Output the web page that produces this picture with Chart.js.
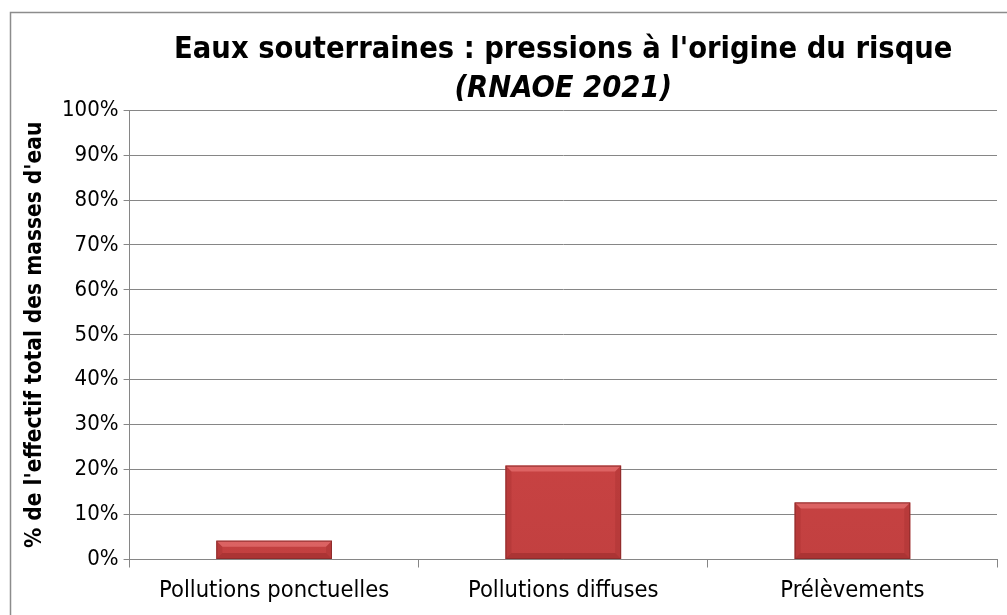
<!DOCTYPE html>
<html>
<head>
<meta charset="utf-8">
<script src="https://cdn.jsdelivr.net/npm/chart.js@4/dist/chart.umd.min.js"></script>
<style>
  html, body { margin: 0; padding: 0; background: #fff; }
  #wrap { width: 1007px; height: 615px; }
</style>
</head>
<body>
<div id="wrap"><canvas id="myChart"></canvas></div>
<script>
const categories = ["Pollutions ponctuelles", "Pollutions diffuses", "Prélèvements"];
const values = [4.2, 20.9, 12.7];
const yTicks = [0, 10, 20, 30, 40, 50, 60, 70, 80, 90, 100];

const fontFam = "'Liberation Sans Narrow', 'DejaVu Sans Condensed', 'Open Sans', sans-serif";

// bordure grise autour du graphique
const frame = {
    id: "frame",
    beforeDraw(chart) {
        const c = chart.ctx;
        c.save();
        c.fillStyle = "#fff";
        c.fillRect(0, 0, chart.width, chart.height);
        c.strokeStyle = "#8c8c8c";
        c.lineWidth = 1.5;
        c.strokeRect(10.5, 12.5, chart.width - 8, chart.height);
        c.restore();
    }
};

// petit effet de biseau sur les barres
const bevel = {
    id: "bevel",
    afterDatasetsDraw(chart) {
        const c = chart.ctx;
        const meta = chart.getDatasetMeta(0);
        c.save();
        meta.data.forEach(function (bar) {
            const w = bar.width;
            const l = bar.x - w / 2, r = bar.x + w / 2;
            const t = bar.y, b = bar.base;
            const d = Math.min(6, (b - t) / 3);
            // haut
            c.fillStyle = "rgba(255,150,150,0.4)";
            c.beginPath();
            c.moveTo(l, t); c.lineTo(r, t); c.lineTo(r - d, t + d); c.lineTo(l + d, t + d);
            c.closePath(); c.fill();
            // bas
            c.fillStyle = "rgba(90,10,10,0.22)";
            c.beginPath();
            c.moveTo(l, b); c.lineTo(r, b); c.lineTo(r - d, b - d); c.lineTo(l + d, b - d);
            c.closePath(); c.fill();
            // côtés
            c.fillStyle = "rgba(110,20,20,0.14)";
            c.beginPath();
            c.moveTo(l, t); c.lineTo(l + d, t + d); c.lineTo(l + d, b - d); c.lineTo(l, b);
            c.closePath(); c.fill();
            c.beginPath();
            c.moveTo(r, t); c.lineTo(r - d, t + d); c.lineTo(r - d, b - d); c.lineTo(r, b);
            c.closePath(); c.fill();
            c.strokeStyle = "#8e2c2c";
            c.lineWidth = 1;
            c.strokeRect(l + 0.5, t + 0.5, w - 1, b - t - 1);
        });
        c.restore();
    }
};

function barFill(context) {
    const chart = context.chart;
    const area = chart.chartArea;
    if (!area) return "#cc4444";
    const el = context.element;
    const top = el && el.y ? el.y : area.top;
    const bottom = el && el.base ? el.base : area.bottom;
    const g = chart.ctx.createLinearGradient(0, top, 0, bottom);
    g.addColorStop(0, "#da4a4a");
    g.addColorStop(1, "#c24040");
    return g;
}

new Chart(document.getElementById("myChart"), {
    type: "bar",
    data: {
        labels: categories,
        datasets: [{
            data: values,
            backgroundColor: barFill,
            borderWidth: 0,
            categoryPercentage: 0.8,
            barPercentage: 0.5
        }]
    },
    options: {
        responsive: true,
        maintainAspectRatio: false,
        animation: false,
        layout: { padding: { top: 24, right: 10, left: 18, bottom: 0 } },
        plugins: {
            legend: { display: false },
            tooltip: { enabled: false },
            title: {
                display: true,
                fullSize: false,
                text: "Eaux souterraines : pressions à l'origine du risque",
                color: "#000",
                font: { family: fontFam, size: 30.5, weight: "bold" },
                padding: { top: 8, bottom: 0 }
            },
            subtitle: {
                display: true,
                fullSize: false,
                text: "(RNAOE 2021)",
                color: "#000",
                font: { family: fontFam, size: 30.5, weight: "bold", style: "italic" },
                padding: { top: 2, bottom: 3 }
            }
        },
        scales: {
            x: {
                grid: {
                    offset: true,
                    drawOnChartArea: false,
                    color: "#868686",
                    tickLength: 8
                },
                border: { color: "#868686" },
                ticks: {
                    color: "#000",
                    font: { family: fontFam, size: 23.5, lineHeight: 1.0 },
                    padding: 12
                }
            },
            y: {
                min: 0,
                max: 100,
                afterBuildTicks(axis) {
                    axis.ticks = yTicks.map(v => ({ value: v }));
                },
                grid: { color: "#868686", tickLength: 6 },
                border: { color: "#868686" },
                ticks: {
                    color: "#000",
                    font: { family: fontFam, size: 22 },
                    padding: 5,
                    callback: v => v + "%"
                },
                title: {
                    display: true,
                    text: "% de l'effectif total des masses d'eau",
                    color: "#000",
                    font: { family: fontFam, size: 22.5, weight: "bold" },
                    padding: { bottom: 8 }
                }
            }
        }
    },
    plugins: [frame, bevel]
});
</script>
</body>
</html>
